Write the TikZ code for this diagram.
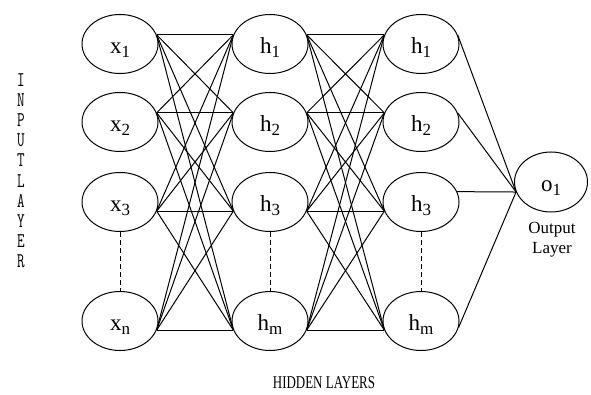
\documentclass[tikz,border=0pt]{standalone}
\usepackage{fontspec}
\setmainfont{Liberation Serif}
\usepackage{graphicx}
\usetikzlibrary{shapes.geometric}
\newcommand\lsub[1]{\raisebox{-4pt}{\fontsize{17}{17}\selectfont #1}}

\begin{document}
\begin{tikzpicture}[
    x=1pt, y=-1pt,
    unit/.style={ellipse, draw, line width=1pt, minimum width=76pt,
                 minimum height=59pt, inner sep=0pt,
                 font=\fontsize{23}{23}\selectfont, text height=19pt, text depth=0pt},
    link/.style={line width=1pt},
    gap/.style={line width=1pt, dash pattern=on 5pt off 3pt},
    lbl/.style={font=\fontsize{17}{20}\selectfont, align=center},
  ]
    \useasboundingbox (0,0) rectangle (591,395);

    % Input layer
    \node[unit] (x1) at (120, 44) {x\lsub{1}};
    \node[unit] (x2) at (120,122) {x\lsub{2}};
    \node[unit] (x3) at (120,202) {x\lsub{3}};
    \node[unit] (xn) at (120,321) {x\lsub{n}};
    \node (inp) at (21,173) {\scalebox{0.7}[1]{\ttfamily\fontsize{21}{20.2}\selectfont
      \begin{tabular}{@{}c@{}}I\\N\\P\\U\\T\\L\\A\\Y\\E\\R\end{tabular}}};

    % Hidden layers
    \node[unit] (a1) at (270, 44) {h\lsub{1}};
    \node[unit] (a2) at (270,122) {h\lsub{2}};
    \node[unit] (a3) at (270,202) {h\lsub{3}};
    \node[unit] (am) at (270,321) {h\lsub{m}};
    \node[unit] (b1) at (421, 44) {h\lsub{1}};
    \node[unit] (b2) at (421,122) {h\lsub{2}};
    \node[unit] (b3) at (421,202) {h\lsub{3}};
    \node[unit] (bm) at (421,321) {h\lsub{m}};
    \node (hid) at (324,383) {\scalebox{0.72}[1]{\fontsize{18}{18}\selectfont HIDDEN LAYERS}};

    % Output layer
    \node[unit, minimum width=73pt, minimum height=60pt] (o1) at (551,182) {o\lsub{1}};
    \node[lbl] (olbl) at (552,240) {Output\\Layer};

    % dots between units
    \draw[gap] (x3) -- (xn);
    \draw[gap] (a3) -- (am);
    \draw[gap] (b3) -- (bm);

    % full connections
    \foreach \s/\sa in {x1/14, x2/14, x3/-14, xn/-14}
      \foreach \t/\ta in {a1/166, a2/166, a3/194, am/194}
        \draw[link] (\s.\sa) -- (\t.\ta);
    \foreach \s/\sa in {a1/14, a2/14, a3/-14, am/-14}
      \foreach \t/\ta in {b1/166, b2/166, b3/194, bm/194}
        \draw[link] (\s.\sa) -- (\t.\ta);
    \foreach \s/\sa in {b1/14, b2/14, b3/16, bm/-10}
      \draw[link] (\s.\sa) -- (o1.196);
\end{tikzpicture}
\end{document}
